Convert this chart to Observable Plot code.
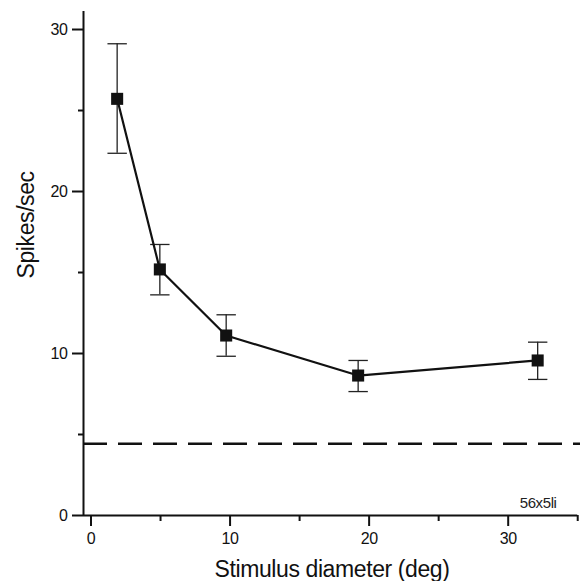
<!DOCTYPE html>
<html><head><meta charset="utf-8">
<script src="https://cdn.jsdelivr.net/npm/d3@7"></script>
<script src="https://cdn.jsdelivr.net/npm/@observablehq/plot@0.6"></script>
<style>
body{margin:0;background:#fff}
#chart svg text{letter-spacing:-0.4px}
</style>
</head><body><div id="chart"></div>
<script>
// Data
const diameter = [1.88, 4.95, 9.72, 19.21, 32.12];
const rate     = [25.72, 15.19, 11.11, 8.64, 9.57];
const rateHi   = [29.12, 16.73, 12.39, 9.57, 10.70];
const rateLo   = [22.36, 13.62, 9.83, 7.65, 8.40];
const baselineRate = [4.43];
const xMajorTicks = [0, 10, 20, 30];
const xMinorTicks = [5, 15, 25, 35];
const yMajorTicks = [0, 10, 20, 30];
const yMinorTicks = [5, 15, 25];
const xTitle = "Stimulus diameter (deg)";
const yTitle = "Spikes/sec";
const note = "56x5li";

const xDomain = [-0.54, 35.2];
const yDomain = [0, 31.05];
const xAxisEnd = 35;

const data = diameter.map((x, i) => ({x, y: rate[i], hi: rateHi[i], lo: rateLo[i]}));
const capSymbol = {draw(ctx, size) { const h = Math.sqrt(size / Math.PI); ctx.moveTo(-h, 0); ctx.lineTo(h, 0); }};

const chart = Plot.plot({
  width: 580,
  height: 581,
  marginLeft: 83,
  marginRight: 0,
  marginTop: 12,
  marginBottom: 66,
  style: {fontFamily: "'Liberation Sans', Arial, sans-serif", fontSize: "16px", color: "#111", background: "#fff"},
  x: {domain: xDomain, axis: null, label: null},
  y: {domain: yDomain, axis: null, label: null},
  marks: [
    // baseline (spontaneous rate)
    Plot.ruleY(baselineRate, {stroke: "#111", strokeWidth: 2.4, strokeDasharray: "24,11"}),
    // axes lines
    Plot.ruleX([xDomain[0]], {stroke: "#111", strokeWidth: 2, strokeLinecap: "square"}),
    Plot.ruleY([0], {x1: xDomain[0], x2: xAxisEnd, stroke: "#111", strokeWidth: 2}),
    Plot.axisX({ticks: xMajorTicks, label: null, tickSize: 11, tickPadding: 6, strokeWidth: 2, fontSize: 16, tickFormat: d => String(d)}),
    Plot.axisX({ticks: xMinorTicks, label: null, tickSize: 6, strokeWidth: 2, tickFormat: () => ""}),
    Plot.axisY({ticks: yMajorTicks, label: null, tickSize: 11, tickPadding: 5, strokeWidth: 2, fontSize: 16, tickFormat: d => String(d)}),
    Plot.axisY({ticks: yMinorTicks, label: null, tickSize: 5, strokeWidth: 2, tickFormat: () => ""}),
    // error bars
    Plot.ruleX(data, {x: "x", y1: "lo", y2: "hi", stroke: "#222", strokeWidth: 1.3}),
    Plot.dot(data, {x: "x", y: "hi", symbol: capSymbol, r: 9.7, stroke: "#222", strokeWidth: 1.3, fill: "none"}),
    Plot.dot(data, {x: "x", y: "lo", symbol: capSymbol, r: 9.7, stroke: "#222", strokeWidth: 1.3, fill: "none"}),
    // line + markers
    Plot.line(data, {x: "x", y: "y", stroke: "#111", strokeWidth: 2.2}),
    Plot.dot(data, {x: "x", y: "y", symbol: "square", r: 6.8, fill: "#111", stroke: "none"}),
    // titles and note
    Plot.text([yTitle], {text: d => d, frameAnchor: "left", rotate: -90, lineAnchor: "bottom", dx: -50, dy: 14.5, fontSize: 23, fill: "#111"}),
    Plot.text([xTitle], {text: d => d, frameAnchor: "bottom", lineAnchor: "bottom", dy: 61, fontSize: 23, fill: "#111"}),
    Plot.text([note], {text: d => d, frameAnchor: "bottom-right", textAnchor: "end", lineAnchor: "bottom", dx: -24, dy: -8, fontSize: 15, fill: "#222"})
  ]
});
document.getElementById("chart").appendChild(chart);
</script>
</body></html>
